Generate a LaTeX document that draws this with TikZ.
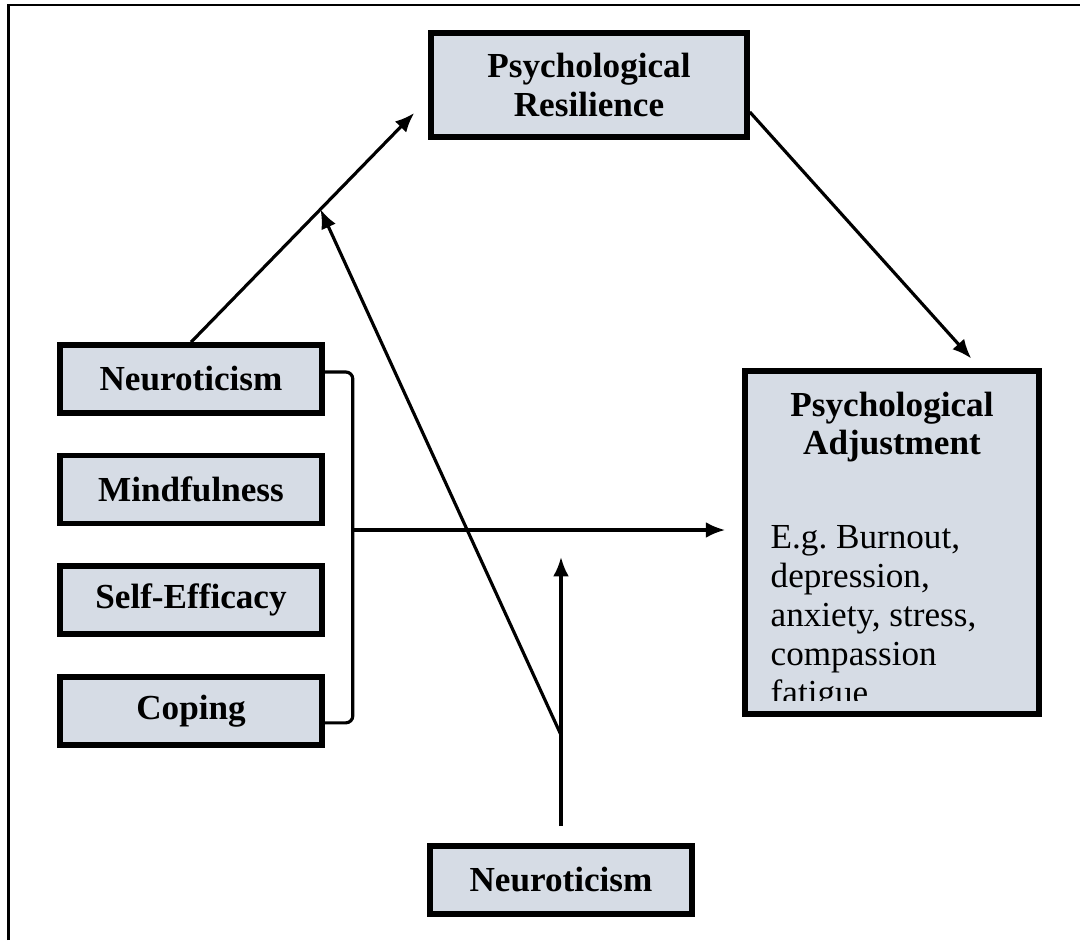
\documentclass[tikz,border=0pt]{standalone}
\usepackage{fontspec}
\setmainfont{Liberation Serif}
\usepackage{xcolor}
\definecolor{boxfill}{RGB}{214,220,229}
\usetikzlibrary{arrows.meta,positioning,calc}

\begin{document}
\begin{tikzpicture}[
    node distance=0.37cm,
    every node/.style={font=\fontsize{10}{11.1}\selectfont},
    factor/.style={rectangle, draw=black, line width=1.6pt, fill=boxfill, minimum width=2.62cm, minimum height=0.68cm, font=\fontsize{10}{11}\selectfont\bfseries, text centered},
    outcome/.style={rectangle, draw=black, line width=1.6pt, fill=boxfill, minimum width=3.16cm, minimum height=1.04cm, align=center, font=\fontsize{10}{11}\selectfont\bfseries},
    link/.style={draw=black, line width=0.9pt},
    arr/.style={link, -{Latex[length=5.5pt,width=4.5pt]}}
]
    \useasboundingbox (0,0) rectangle (10.8,9.4);
    \draw[line width=0.8pt] (0.087,0) |- (10.8,9.35);

    % Mediator
    \node[outcome] (resil) at (5.89,8.55) {Psychological\\Resilience};

    % Predictors
    \node[factor] (neuro) at (1.91,5.61) {Neuroticism};
    \node[factor, below=of neuro] (mind) {Mindfulness};
    \node[factor, below=of mind] (selfeff) {Self-Efficacy};
    \node[factor, below=of selfeff] (coping) {Coping};

    % Outcome
    \node[outcome, minimum width=2.94cm, minimum height=3.43cm] (adjust) at (8.92,3.975) {};
    \node[anchor=north, inner sep=0pt, align=center, font=\fontsize{10}{11}\selectfont\bfseries] (adjtitle) at ($(adjust.north)+(0,-0.23)$) {Psychological\\Adjustment};
    \begin{scope}
        \clip ($(adjust.south west)+(0,0.16)$) rectangle (adjust.north east);
        \node[anchor=north west, inner sep=0pt, align=left] (adjtext) at (7.70,4.15) {E.g.\ Burnout,\\depression,\\anxiety, stress,\\compassion\\fatigue};
    \end{scope}

    % Moderator
    \node[factor] (neuromod) at (5.61,0.60) {Neuroticism};

    % Helper points
    \coordinate (resin) at ($(resil.west)+(-0.14,-0.28)$);
    \coordinate (brk) at ($(neuro.east)+(0.28,0.07)$);
    \coordinate (join) at (brk |- 0,4.10);
    \coordinate (modtip) at (neuromod.north |- 0,3.83);
    \coordinate (split) at (neuromod.north |- 0,2.05);

    % Arrows
    \draw[arr] (neuro.north) -- coordinate[pos=0.58] (hit) (resin);
    \draw[arr, shorten >=0.13cm] ($(resil.east)+(0,-0.27)$) -- ($(adjust.north)+(0.88,0)$);
    \draw[link, rounded corners=2pt] ($(neuro.east)+(0,0.07)$) -- (brk) |- ($(coping.east)+(0,-0.12)$);
    \draw[arr, shorten >=0.17cm] (join) -- (join -| adjust.west);
    \draw[arr, shorten <=0.17cm] (neuromod.north) -- (modtip);
    \draw[arr] (split) -- (hit);
\end{tikzpicture}
\end{document}
